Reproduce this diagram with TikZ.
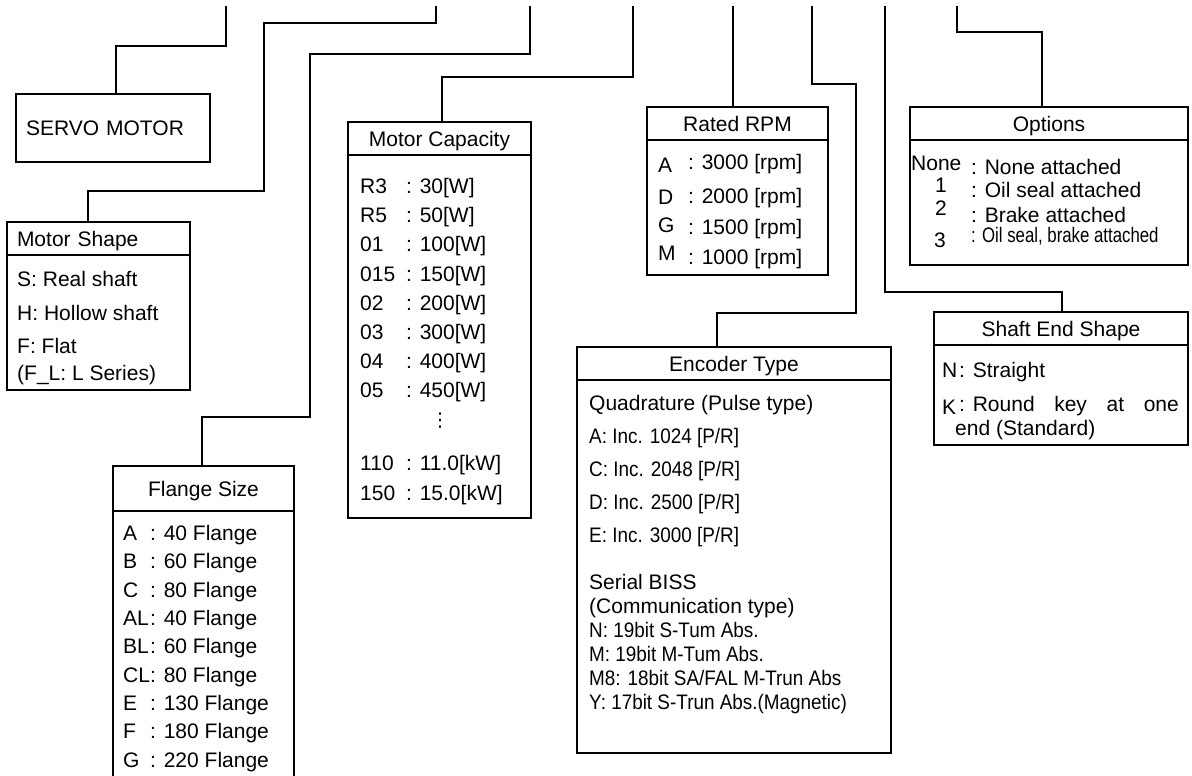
\documentclass[tikz,border=0pt]{standalone}
\usepackage{fontspec}
\setmainfont{Liberation Sans}
\newfontfamily\symfont{DejaVu Sans}
\usepackage{graphicx}
\usetikzlibrary{positioning}

\tikzset{
  wire/.style={line width=1.2pt},
  part/.style={draw, line width=1.2pt, outer sep=0pt, inner sep=0pt},
  hdr/.style={part, text height=15pt, text depth=0pt},
  item/.style={anchor=base west, inner sep=0pt},
}

\begin{document}
\begin{tikzpicture}[x=1pt, y=-1pt, font=\fontsize{21}{25}\selectfont]
  \useasboundingbox (0,0) rectangle (1192,776);
  % lead-in points along the top edge
  \foreach \n/\x in {1/226, 2/436, 3/530, 4/633, 5/733, 6/812, 7/885, 8/957}
    \coordinate (t\n) at (\x,6);

  % servo motor
  \node[hdr, minimum height=68pt, text width=174pt, inner xsep=10pt, align=left, anchor=north west] (servo) at (16,94) {SERVO MOTOR};

  % motor shape
  \node[hdr, minimum width=183pt, minimum height=33pt, text width=163pt, align=left, anchor=north west] (msHead) at (7,222) {Motor Shape};
  \node[part, minimum width=183pt, minimum height=135pt, below=0pt of msHead] (msBody) {};
  \foreach \y/\t [count=\i] in {286.5/S: Real shaft, 320.5/H: Hollow shaft, 353.5/F: Flat, 380.5/(F\_L: L Series)}
    \node[item] (ms\i) at (17,\y) {\t};

  % flange size
  \node[hdr, minimum width=181pt, minimum height=45pt, anchor=north west] (flHead) at (113,466) {Flange Size};
  \node[part, minimum width=181pt, minimum height=320pt, below=0pt of flHead] (flBody) {};
  \foreach \k/\val [count=\i] in {A/40, B/60, C/80, AL/40, BL/60, CL/80, E/130, F/180, G/220}
    \node[item] (fl\i) at (123,512.15+28.35*\i) {\makebox[27pt][l]{\k}: \val\ Flange};

  % motor capacity
  \node[hdr, minimum width=183pt, minimum height=33pt, anchor=north west] (mcHead) at (348,122) {Motor Capacity};
  \node[part, minimum width=183pt, minimum height=363pt, below=0pt of mcHead] (mcBody) {};
  \foreach \k/\val [count=\i] in {R3/30, R5/50, 01/100, 015/150, 02/200, 03/300, 04/400, 05/450}
    \node[item] (mc\i) at (360,164.3+29.2*\i) {\makebox[46pt][l]{\k}: \val[W]};
  \node[inner sep=0pt, font=\fontsize{19}{19}\symfont] (mcDots) at (440,421) {⋮};
  \node[item] (mc9) at (360,470.5) {\makebox[46pt][l]{110}: 11.0[kW]};
  \node[item] (mc10) at (360,500.5) {\makebox[46pt][l]{150}: 15.0[kW]};

  % rated rpm
  \node[hdr, minimum width=181pt, minimum height=33pt, anchor=north west] (rpHead) at (647,107) {Rated RPM};
  \node[part, minimum width=181pt, minimum height=135pt, below=0pt of rpHead] (rpBody) {};
  \foreach \k/\val/\y/\dy [count=\i] in {A/3000/169.5/3, D/2000/203.5/1, G/1500/234.5/-2, M/1000/264.5/-4}
    \node[item] (rp\i) at (658,\y) {\makebox[30pt][l]{\raisebox{-\dy pt}{\k}}: \val\ [rpm]};

  % encoder type
  \node[hdr, minimum width=314pt, minimum height=33pt, anchor=north west] (enHead) at (577,347) {Encoder Type};
  \node[part, minimum width=314pt, minimum height=373pt, below=0pt of enHead] (enBody) {};
  \node[item] (enQ) at (589,410.5) {Quadrature (Pulse type)};
  \foreach \t [count=\i] in {{A: Inc. 1024 [P/R]}, {C: Inc. 2048 [P/R]}, {D: Inc. 2500 [P/R]}, {E: Inc. 3000 [P/R]}}
    \node[item] (enq\i) at (589,410.5+33*\i) {\scalebox{0.9}[1]{\t}};
  \node[item] (enS) at (589,589.5) {Serial BISS};
  \node[item] (enC) at (589,613.5) {(Communication type)};
  \foreach \t [count=\i] in {{N: 19bit S-Tum Abs.}, {M: 19bit M-Tum Abs.}, {M8: 18bit SA/FAL M-Trun Abs}, {Y: 17bit S-Trun Abs.(Magnetic)}}
    \node[item] (ens\i) at (589,613.5+24*\i) {\scalebox{0.9}[1]{\t}};

  % options
  \node[hdr, minimum width=278pt, minimum height=33pt, anchor=north west] (opHead) at (910,107) {Options};
  \node[part, minimum width=278pt, minimum height=125pt, below=0pt of opHead] (opBody) {};
  \foreach \k/\x/\y [count=\i] in {None/911/170.5, 1/935/192.5, 2/935/215.5, 3/934/247.5}
    \node[item] (opk\i) at (\x,\y) {\k};
  \foreach \t/\y/\s [count=\i] in {{None attached}/174.5/1, {Oil seal attached}/197.5/1, {Brake attached}/222.5/1, {Oil seal, brake attached}/242.5/0.8}
    \node[item] (opv\i) at (971,\y) {\scalebox{\s}[1]{: \t}};

  % shaft end shape
  \node[hdr, minimum width=254pt, minimum height=33pt, anchor=north west] (shHead) at (934,312) {Shaft End Shape};
  \node[part, minimum width=254pt, minimum height=100pt, below=0pt of shHead] (shBody) {};
  \node[item] (sh1) at (942,377.5) {\makebox[17pt][l]{N}: Straight};
  \node[item] (sh2) at (942,411.5) {\makebox[17pt][l]{\raisebox{-3pt}{K}}: \makebox[206pt][s]{Round key at one}};
  \node[item] (sh3) at (955,435.5) {end (Standard)};

  % leaders from the code positions down to the boxes
  \draw[wire] (t1) -- ++(0,40) -| ([xshift=3pt]servo.north);
  \draw[wire] (t2) -- ++(0,17) -| ++(-172,168) -| ([xshift=-10.5pt]msHead.north);
  \draw[wire] (t3) -- ++(0,48) -| ++(-220,363) -| ([xshift=-1.5pt]flHead.north);
  \draw[wire] (t4) -- ++(0,71) -| ([xshift=2.5pt]mcHead.north);
  \draw[wire] (t5) -- (t5 |- rpHead.north);
  \draw[wire] (t6) -- ++(0,78) -| ++(44,229) -| ([xshift=-17pt]enHead.north);
  \draw[wire] (t7) -- ++(0,286) -| ([xshift=1pt]shHead.north);
  \draw[wire] (t8) -- ++(0,26) -| ([xshift=-7pt]opHead.north);
\end{tikzpicture}
\end{document}
